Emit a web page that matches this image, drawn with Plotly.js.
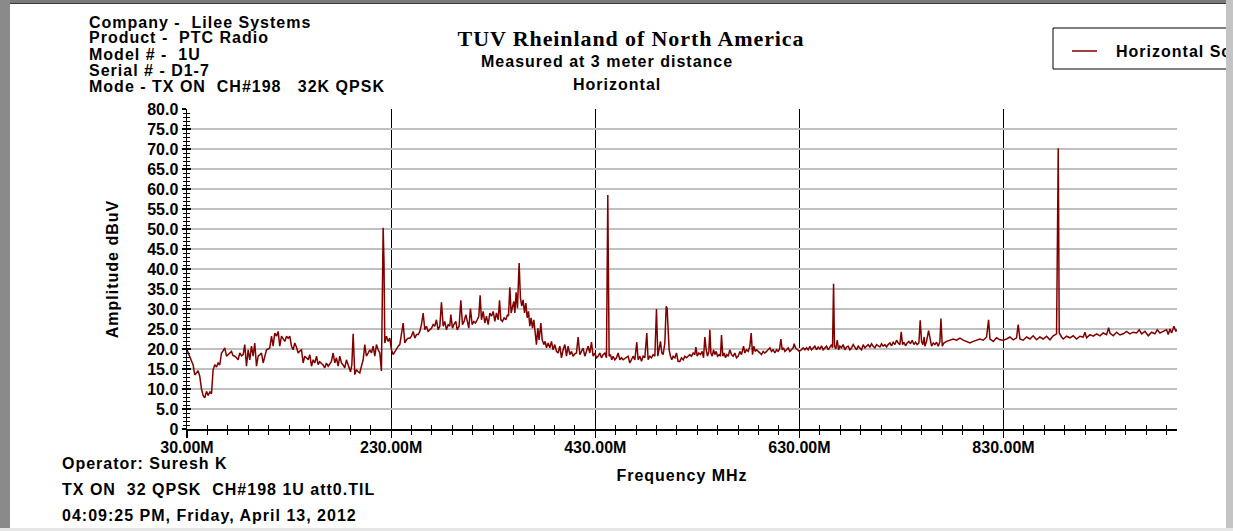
<!DOCTYPE html>
<html>
<head>
<meta charset="utf-8">
<script src="https://cdn.plot.ly/plotly-3.0.1.min.js"></script>
<style>
  html, body { margin: 0; padding: 0; background: #ffffff; overflow: hidden; }
  #wrap { position: relative; width: 1233px; height: 531px; }
  #plot { position: absolute; left: 0; top: 0; width: 1233px; height: 531px; }
  .edge { position: absolute; pointer-events: none; z-index: 10; }
  text.annotation-text, text.legendtext, text.xtitle, text.ytitle { letter-spacing: 1px; }
  text.gtitle { letter-spacing: 0.9px; }
</style>
</head>
<body>
<div id="wrap">
  <div id="plot"></div>
  <div class="edge" style="left:0;top:0;width:1233px;height:3px;background:#7a7a7a;"></div>
  <div class="edge" style="left:0;top:3px;width:1226px;height:1px;background:#3a3a3a;"></div>
  <div class="edge" style="left:0;top:0;width:10px;height:531px;background:#8a8a8a;"></div>
  <div class="edge" style="left:1226px;top:0;width:7px;height:531px;background:#c4c4c4;"></div>
  <div class="edge" style="left:0;top:528px;width:1233px;height:3px;background:#e6e6e6;"></div>
</div>
<script>
// ---- Data (frequency in MHz, amplitude in dBuV) ----
const freqA = [30,32,34.4,36,37.6,39,40.9,42.5,44.2,45.8,
  47.4,49.1,50.7,52.5,54,55.6,57.2,58.9,60.5,62.1,
  63.8,65.5,67,68.7,70.5,72,73.6,75,76.8,78.5,
  80.1,81.7,83.5,85,86.6,88.3,89.9,91.5,93.2,94.8,
  96.4,98.1,99.7,101.5,103,104.6,106.2,107.9,109.5,111.1,
  112.8,114.4,116,117.7,119.3,120.9,122.6,124.2,125.8,127.5,
  129.1,130.7,132.4,134,135.6,137.2,138.9,140.5,142.2,143.8,
  145.4,147,148.7,150.3,152,153.6,155.2,156.9,158.5,160,
  161.7,163.3,165,166.6,168.3,170,171.5,173.2,174.8,176.4,
  178.1,179.7,181.3,183,184.6,186.2,187.9,190.2,191.5,192.8,
  194.4,196,197.7,199.3,200.9,202.6,204.2,205.8,207.5,209.1,
  210.7,212.4,214,215.6,217.3,218.9,220.5,221.5,222.2,223,
  223.8,225.4,227.1,228.7,230.3,232,233.6,235.2,236.9,238.5,
  240.1,241.8,243.4,245,246.7,248.3,249.9,251.6,253.2,254.8,
  256.5,258.1,259.7,261.4,263,264.6,266.3,267.9,269.5,271.2,
  272.8];
const ampA = [19.8,18.5,16.8,16.0,13.5,14.0,14.6,13.2,10.0,8.4,
  7.8,9.4,8.4,9.3,8.8,14.8,16.1,15.5,16.5,16.0,
  19.0,19.6,20.3,18.2,18.6,19.0,19.4,18.4,18.2,17.8,
  17.3,19.0,18.3,18.6,21.1,15.7,19.8,17.3,20.7,18.2,
  21.5,15.7,18.2,18.6,19.0,16.5,18.0,19.8,20.0,20.3,
  23.2,20.7,24.0,23.2,24.4,20.7,23.2,22.5,21.9,23.2,
  22.7,23.2,20.7,19.8,21.5,20.5,19.0,19.5,19.8,16.5,
  18.2,17.8,17.3,18.6,15.7,17.3,16.5,18.2,16.1,16.8,
  16.5,16.0,15.3,16.5,15.7,16.3,16.9,19.0,16.5,17.8,
  15.7,18.2,16.5,16.0,15.3,17.3,16.1,14.3,16.0,23.8,
  13.6,14.8,14.3,14.0,15.7,17.3,21.1,18.2,19.0,19.8,
  19.0,20.7,18.2,21.1,19.8,19.0,14.5,48.0,50.3,42.0,
  21.5,23.2,21.9,22.7,19.8,18.6,19.4,19.8,20.7,21.1,
  23.6,26.5,21.5,22.3,22.7,22.7,23.2,24.4,22.7,23.6,
  23.6,24.4,26.1,29.0,24.8,25.7,24.4,24.8,25.2,26.1,
  25.7];

const freqB = [274.4,276.1,277.7,279.3,281.0,282.6,284.2,285.9,287.5,288.5,
  290.1,291.4,293.4,294.7,296.6,298.3,299.9,301.5,303.2,304.5,
  306.1,307.7,309.4,311.0,312.6,314.3,315.9,317.2,318.5,320.2,
  321.8,323.4,325.1,326.7,328.3,330.0,331.6,333.2,334.9,336.2,
  337.5,339.1,340.7,342.4,344.0,345.0,346.3,347.6,348.9,350.2,
  351.2,352.5,353.8,355.4,356.7,358.0,359.3,360.7,362.0,363.3,
  364.6,365.9,367.2,368.5,369.8,371.1,372.4,373.7,375.0,376.7,
  378.0,379.6,380.9,382.2,383.8,385.5,387.1,388.7,390.4,392.0,
  393.6,395.3,396.9,398.5,400.2,401.8,403.4,405.1,406.7,408.3,
  410.0,411.6,413.2,414.9,416.5,418.1,419.8,421.4,423.0,424.7,
  426.3,427.9,429.6,431.2,432.8,434.5,436.1,437.7,439.4,441.0,
  442.0,442.3,442.7,443.6,444.9,446.2,447.5,449.2,450.8,452.4,
  454.1,455.7,457.3,460.6,462.2,463.9,465.5,467.1,468.8,470.7,
  472.0,473.7,475.3,476.9,478.6,480.5,481.8,483.5,485.1,486.7,
  488.4,490.0,491.3,492.6,493.9,495.2,496.5,498.2,499.5,500.4,
  501.4,502.4,503.7,505.0,506.3,508.0,509.6,511.2,512.9];
const ampB = [27.3,24.8,25.7,31.7,25.7,26.9,24.8,26.1,25.7,28.6,
  25.2,26.1,26.9,24.8,25.7,32.2,26.1,26.9,28.6,26.9,
  25.2,30.1,26.1,26.9,26.5,27.3,28.2,33.4,27.3,29.4,
  26.5,28.2,26.1,29.0,28.2,29.4,26.9,29.0,27.3,32.2,
  27.3,26.9,27.8,27.3,28.6,28.2,35.4,29.0,30.7,31.9,
  29.0,34.2,30.2,41.5,32.7,30.7,32.3,29.0,31.5,27.8,
  29.4,25.7,27.8,25.2,27.3,24.8,21.1,25.2,22.3,26.5,
  22.3,21.1,21.9,20.3,21.5,20.3,21.9,19.8,21.1,19.4,
  19.0,20.7,17.8,19.8,21.1,18.2,20.7,18.6,19.4,18.2,
  18.8,19.0,23.0,18.6,19.4,20.2,18.2,19.8,20.7,19.0,
  21.7,18.2,19.0,17.8,18.2,19.0,17.8,18.6,19.0,17.8,
  50.0,58.5,45.0,18.2,18.6,17.3,18.2,17.3,17.8,19.0,
  17.3,17.8,17.3,17.8,18.2,16.5,17.3,18.2,17.3,21.7,
  17.3,18.2,16.9,18.2,17.8,24.0,17.3,18.2,17.8,18.6,
  18.2,30.0,18.2,19.8,21.9,19.0,18.6,21.5,30.7,30.2,
  23.2,19.8,18.2,17.3,18.2,17.8,19.0,16.9,16.9];

const freqC = [514.5,516.2,517.8,519.4,521.1,522.7,524.3,526.0,527.6,528.6,
  529.9,531.5,533.1,534.8,536.1,537.4,538.7,540.0,541.3,542.3,
  543.3,544.6,545.9,547.2,548.5,549.8,551.4,552.7,553.7,555.0,
  556.3,557.6,558.9,560.3,561.9,563.5,565.2,566.8,568.4,570.1,
  571.7,573.3,575.3,576.6,578.2,579.9,581.5,582.8,584.1,585.4,
  586.7,588.0,589.7,591.3,592.9,594.5,596.2,597.8,599.4,601.1,
  602.7,604.3,606.0,607.6,609.2,610.6,611.9,613.2,614.5,615.8,
  617.4,619.0,620.7,622.3,623.9,624.9,626.2,628.2,629.8,632.1,
  633.7,635.4,637.0,638.6,640.3,641.9,643.5,645.2,646.8,648.4,
  650.1,651.7,653.3,655.0,656.6,658.2,659.9,661.5,662.5,663.5,
  664.4,665.7,667.1,668.4,669.7,671.3,672.9,674.6,676.2,677.8,
  679.5,681.1,682.7,684.4,686.0,687.6,689.3,690.9,692.5,694.2,
  695.8,697.4,699.1,700.7,702.3,704.0,705.6,707.2,708.9,710.5,
  712.1,713.8,715.4,717.0,718.7,720.3,721.9,723.6,725.2,726.8,
  728.5,729.8,731.1,732.4,734.0,735.6,737.3,738.9,740.5,742.2,
  743.8,745.4,747.1,748.4,749.7,751.0,752.3];
const ampC = [17.8,17.3,18.2,17.8,18.2,18.6,18.2,19.0,18.6,20.5,
  18.2,19.0,18.6,19.4,17.8,23.0,19.8,18.2,19.4,24.8,
  19.0,18.2,19.8,18.6,19.4,18.2,18.6,18.2,23.5,18.2,
  19.0,17.8,18.6,18.2,19.8,18.6,18.2,19.0,17.8,18.2,
  19.4,18.6,20.7,19.0,19.8,19.4,20.7,24.0,18.6,20.7,
  19.4,19.8,19.4,19.0,18.6,19.4,19.0,19.4,19.8,20.3,
  19.4,19.8,19.0,19.8,19.4,20.0,22.5,19.8,20.3,19.4,
  19.8,20.3,19.4,19.8,20.3,21.3,20.3,19.8,19.4,19.8,
  20.3,19.8,20.3,19.8,20.7,19.8,20.3,20.7,19.8,20.5,
  20.0,20.8,19.8,20.3,20.7,19.8,20.5,21.1,20.3,36.3,
  20.7,20.0,22.2,19.8,20.7,20.3,21.1,19.8,20.5,20.7,
  19.8,20.3,21.1,20.3,19.8,20.7,20.3,19.8,21.1,20.3,
  20.7,21.1,20.5,21.3,20.7,20.3,21.1,20.7,20.5,21.3,
  20.7,21.1,20.5,21.1,21.5,20.8,21.7,21.1,22.2,21.5,
  21.1,24.3,21.1,21.7,20.8,21.5,21.9,21.3,22.2,21.1,
  21.7,21.1,21.5,27.2,21.9,21.1,23.0];

const freqD = [753.0,754.6,756.6,757.9,759.5,761.2,762.8,764.4,766.1,767.7,
  768.7,770.0,771.6,774.2,777.5,780.8,784.0,787.3,790.6,793.8,
  797.1,800.4,803.6,806.9,810.2,813.4,815.4,816.7,818.3,820.0,
  823.2,826.5,829.7,833.0,836.3,839.5,842.8,844.4,846.1,849.3,
  852.6,855.9,859.1,862.4,865.7,868.9,872.2,875.5,878.7,882.0,
  883.3,883.6,884.0,884.6,886.9,888.5,891.8,895.1,898.3,901.6,
  904.9,908.1,909.8,911.4,914.7,917.9,921.2,924.5,927.7,931.0,
  933.0,934.3,937.5,940.8,944.1,947.3,950.6,953.9,957.1,960.4,
  963.0,965.3,968.6,971.8,975.1,978.4,980.6,983.3,986.5,989.8,
  991.4,993.1,994.7,997.0,998.9,1000];
const ampD = [20.7,21.9,24.6,22.3,20.7,21.5,21.1,21.7,20.7,21.9,
  27.6,20.7,21.5,21.9,22.2,22.5,22.2,22.7,22.2,21.9,
  21.5,21.9,22.2,22.5,22.2,23.0,27.3,22.5,22.2,21.9,
  22.8,22.3,22.2,22.5,23.0,22.3,22.8,26.1,22.5,22.2,
  23.0,22.5,23.3,22.3,23.0,22.5,23.2,22.3,23.3,23.8,
  60.0,70.2,55.0,24.0,23.0,22.5,23.2,22.8,23.3,22.5,
  23.2,23.0,24.2,22.8,23.6,23.2,23.8,23.3,24.0,23.6,
  25.3,24.0,23.3,24.2,23.5,23.8,24.4,23.8,24.2,24.0,
  24.8,23.8,24.4,23.3,24.2,23.8,24.8,24.0,24.4,24.8,
  23.6,25.0,24.0,25.7,24.4,24.8];

const freqMHz = freqA.concat(freqB, freqC, freqD);
const amplitudeDbuV = ampA.concat(ampB, ampC, ampD);

// ---- Axis ticks and texts ----
const yTickVals = [0,5,10,15,20,25,30,35,40,45,50,55,60,65,70,75,80];
const yTickText = ['0','5.0','10.0','15.0','20.0','25.0','30.0','35.0','40.0','45.0','50.0','55.0','60.0','65.0','70.0','75.0','80.0'];
const seriesName = 'Horizontal Scan';
const seriesColor = '#800000';
const titleText = 'TUV Rheinland of North America';
const subtitleLines = ['Measured at 3 meter distance', 'Horizontal'];
const headerLines = ['Company -\u00a0 Lilee Systems', 'Product -\u00a0 PTC Radio', 'Model # -\u00a0 1U', 'Serial # - D1-7', 'Mode - TX ON\u00a0 CH#198\u00a0\u00a0 32K QPSK'];
const footerLines = ['Operator: Suresh K', 'TX ON\u00a0 32 QPSK\u00a0 CH#198 1U att0.TIL', '04:09:25 PM, Friday, April 13, 2012'];
const xTitle = 'Frequency MHz';
const yTitle = 'Amplitude dBuV';

// ---- Layout helpers (pixel -> paper) ----
const L = 187, R = 1177, T = 109, B = 429;
const px = v => (v - L) / (R - L);
const py = v => (B - v) / (B - T);

const sans = { family: '"Liberation Sans", Arial, sans-serif', size: 16, color: '#000000', weight: 'bold' };
const serif = { family: '"Liberation Serif", "Times New Roman", serif', size: 22, color: '#000000', weight: 'bold' };

const annotations = [];
const subY = [62, 84], subX = [607, 617];
subtitleLines.forEach((t, i) => annotations.push({ text: t, x: px(subX[i]), y: py(subY[i]), xref: 'paper', yref: 'paper', xanchor: 'center', yanchor: 'middle', showarrow: false, font: sans }));
const headY = [23, 38, 54, 70, 86];
headerLines.forEach((t, i) => annotations.push({ text: t, x: px(87), y: py(headY[i]), xref: 'paper', yref: 'paper', xanchor: 'left', yanchor: 'middle', showarrow: false, font: sans }));
const footY = [463, 489, 515];
footerLines.forEach((t, i) => annotations.push({ text: t, x: px(60), y: py(footY[i]), xref: 'paper', yref: 'paper', xanchor: 'left', yanchor: 'middle', showarrow: false, font: sans }));
// legend entry text (box and sample line are shapes below)
annotations.push({ text: seriesName, x: px(1114), y: py(51), xref: 'paper', yref: 'paper', xanchor: 'left', yanchor: 'middle', showarrow: false, font: sans });

const traces = [
  { x: freqMHz, y: amplitudeDbuV, type: 'scatter', mode: 'lines', name: seriesName,
    line: { color: seriesColor, width: 1.5 }, hoverinfo: 'x+y', showlegend: false },
  { x: freqMHz, y: amplitudeDbuV, type: 'scatter', mode: 'lines', xaxis: 'x2', yaxis: 'y2',
    line: { color: 'rgba(0,0,0,0)', width: 0 }, showlegend: false, hoverinfo: 'skip' }
];

const layout = {
  width: 1233, height: 531,
  margin: { l: L, r: 1233 - R, t: T, b: 531 - B, pad: 0, autoexpand: false },
  paper_bgcolor: 'rgba(0,0,0,0)',
  plot_bgcolor: '#ffffff',
  title: { text: titleText, font: serif, x: 631 / 1233, xref: 'container', xanchor: 'center', y: 1 - 38 / 531, yref: 'container', yanchor: 'middle' },
  showlegend: false,
  xaxis: {
    range: [30, 1000], tick0: 30, dtick: 200, tickformat: '.2f', ticksuffix: 'M',
    showgrid: true, gridcolor: '#000000', gridwidth: 1.2, zeroline: false,
    showline: true, linecolor: '#000000', linewidth: 1.5,
    ticks: 'outside', ticklen: 7, tickcolor: '#000000', tickwidth: 1.2,
    minor: { tick0: 30, dtick: 20, ticks: 'outside', ticklen: 4, tickcolor: '#000000', tickwidth: 1, showgrid: false },
    tickfont: sans, ticklabelstandoff: -4, fixedrange: true,
    title: { text: xTitle, font: sans, standoff: 15 }
  },
  yaxis: {
    range: [0, 80], tickmode: 'array', tickvals: yTickVals, ticktext: yTickText,
    showgrid: true, gridcolor: '#c0c0c0', gridwidth: 1.5, zeroline: false,
    showline: true, linecolor: '#000000', linewidth: 1.5,
    ticks: 'outside', ticklen: 4, tickcolor: '#000000', tickwidth: 1.2,
    minor: { dtick: 1, tick0: 0, ticks: 'outside', ticklen: 3, tickcolor: '#000000', tickwidth: 1, showgrid: false },
    tickfont: sans, fixedrange: true,
    title: { text: yTitle, font: sans, standoff: 24 }
  },
  xaxis2: {
    overlaying: 'x', anchor: 'y2', range: [30, 1000], tick0: 30, dtick: 200,
    showgrid: false, zeroline: false, showline: false, showticklabels: false,
    ticks: 'inside', ticklen: 4, tickcolor: '#000000', tickwidth: 1,
    minor: { tick0: 30, dtick: 20, ticks: 'inside', ticklen: 4, tickcolor: '#000000', tickwidth: 1, showgrid: false },
    fixedrange: true
  },
  yaxis2: {
    overlaying: 'y', anchor: 'x2', side: 'left', range: [0, 80], dtick: 5, tick0: 0,
    showgrid: false, zeroline: false, showline: false, showticklabels: false,
    ticks: 'inside', ticklen: 4, tickcolor: '#000000', tickwidth: 1.2,
    minor: { dtick: 1, tick0: 0, ticks: 'inside', ticklen: 3, tickcolor: '#000000', tickwidth: 1, showgrid: false },
    fixedrange: true
  },
  shapes: [
    { type: 'rect', xref: 'paper', yref: 'paper', x0: px(1053), x1: px(1250), y0: py(69), y1: py(28),
      line: { color: '#000000', width: 1 }, fillcolor: '#ffffff', layer: 'below' },
    { type: 'line', xref: 'paper', yref: 'paper', x0: px(1072), x1: px(1097), y0: py(51), y1: py(51),
      line: { color: seriesColor, width: 1.5 } }
  ],
  annotations: annotations
};

Plotly.newPlot('plot', traces, layout, { displayModeBar: false, staticPlot: true });
</script>
</body>
</html>
